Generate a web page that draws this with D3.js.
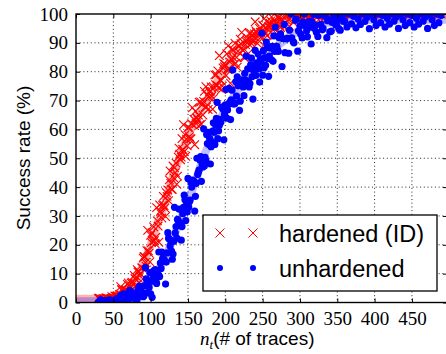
<!DOCTYPE html>
<html>
<head>
<meta charset="utf-8">
<script src="https://cdn.jsdelivr.net/npm/d3@7"></script>
<style>
    body { margin: 0; background: #fff; }
    .tick text { font-family: "Liberation Serif", serif; font-size: 19px; fill: #000; }
</style>
</head>
<body>
<svg id="chart" width="446" height="354"></svg>
<script>
// run A: number of traces and success rates
const traceCounts = [
    30, 33, 36, 39, 42, 45, 48, 51, 54, 57, 60, 63, 66, 69, 72, 75, 78, 81, 84, 87,
    90, 93, 96, 99, 102, 105, 108, 111, 114, 117, 120, 123, 126, 129, 132, 135, 138, 141, 144, 147,
    150, 153, 156, 159, 162, 165, 168, 171, 174, 177, 180, 183, 186, 189, 192, 195, 198, 201, 204, 207,
    210, 213, 216, 219, 222, 225, 228, 231, 234, 237, 240, 243, 246, 249, 252, 255, 258, 261, 264, 267,
    270, 273, 276, 279, 282, 285, 288, 291, 294, 297, 300, 303, 306, 309, 312, 315, 318, 321, 324, 327,
    330, 333, 336, 339, 342, 345, 348, 351, 354, 357, 360, 363, 366, 369, 372, 375, 378, 381, 384, 387,
    390, 393, 396, 399, 402, 405, 408, 411, 414, 417, 420, 423, 426, 429, 432, 435, 438, 441, 444, 447,
    450, 453, 456, 459, 462, 465, 468, 471, 474, 477, 480, 483, 486, 489
];

const hardenedRate = [
    1.4, 0.7, 1.1, 0.5, 1.4, 1.15, 2.0, 1.2, 2.2, 1.5, 5.5, 0.6, 4.2, 6.3, 3.6, 7.0, 9.4, 6.1, 10.8, 7.5,
    15.4, 13.8, 25.0, 14.1, 24.2, 21.4, 32.9, 20.9, 30.8, 36.8, 29.8, 39.0, 45.6, 39.2, 46.7, 41.0, 53.5, 50.4, 61.6, 50.7,
    60.6, 56.9, 67.5, 54.7, 64.0, 69.4, 61.8, 69.7, 74.8, 66.9, 73.3, 67.0, 78.9, 75.2, 85.6, 73.8, 82.8, 78.7, 89.0, 76.0,
    85.0, 89.8, 81.6, 89.0, 93.6, 85.1, 90.4, 86.3, 93.4, 91.0, 97.3, 89.8, 95.0, 92.3, 98.4, 90.2, 95.6, 97.6, 94.4, 97.2,
    99.0, 95.8, 98.1, 95.4, 99.7, 98.0, 100, 97.1, 100, 98.4, 100, 97.8, 99.7, 100, 98.8, 100, 100, 99.1, 100, 98.5,
    100, 100, 100, 100, 100, 100, 100, 100, 100, 100, 100, 100, 100, 100, 100, 100, 100, 100, 100, 100,
    100, 100, 100, 100, 100, 100, 100, 100, 100, 100, 100, 100, 100, 100, 100, 100, 100, 100, 100, 100,
    100, 100, 100, 100, 100, 100, 100, 100, 100, 100, 100, 100, 100, 100
];

const unhardenedRate = [
    0.1, 0.9, 0.3, 0.65, 0, 0.9, 0.5, 0.15, 1.3, 0.65, 2.5, 0, 1.8, 0, 4.2, 1.5, 3.3, 0, 5.1, 3.55,
    2.0, 12.1, 3.4, 10.3, 1.8, 10.2, 6.6, 17.5, 11.8, 16.9, 6.4, 24.2, 19.6, 15.0, 33.0, 22.3, 32.4, 21.6, 33.0, 28.4,
    43.0, 35.5, 42.4, 31.7, 50.0, 46.0, 42.0, 60.2, 49.2, 59.0, 48.0, 59.4, 54.8, 69.4, 61.4, 67.7, 56.4, 73.8, 68.6, 63.4,
    80.6, 69.0, 78.2, 66.6, 77.2, 71.7, 85.4, 76.7, 82.4, 70.5, 87.4, 81.9, 76.4, 93.3, 81.4, 90.3, 78.4, 88.6, 83.6, 95.4,
    87.6, 92.4, 81.8, 96.4, 91.4, 86.4, 100, 90.4, 97.8, 87.1, 95.9, 91.7, 100, 94.2, 97.4, 89.6, 99.9, 96.1, 92.2, 100,
    94.5, 99.7, 91.8, 98.0, 94.1, 100, 96.2, 98.3, 94.4, 99.4, 97.5, 95.5, 100, 96.6, 99.2, 95.2, 98.3, 96.4, 100, 97.4,
    98.9, 94.9, 100, 98.0, 96.0, 100, 97.0, 99.5, 95.5, 98.5, 96.5, 100, 97.5, 99.0, 95.0, 100, 98.0, 96.0, 100, 97.0,
    99.5, 95.5, 98.5, 96.5, 100, 97.5, 99.0, 95.0, 100, 98.0, 96.0, 100, 97.0, 99.5
];

// run B
const traceCountsB = [
    31, 34, 37, 40, 43, 46, 49, 52, 55, 58, 61, 64, 67, 70, 73, 76, 79, 82, 85, 88,
    91, 94, 97, 100, 103, 106, 109, 112, 115, 118, 121, 124, 127, 130, 133, 136, 139, 142, 145, 148,
    151, 154, 157, 160, 163, 166, 169, 172, 175, 178, 181, 184, 187, 190, 193, 196, 199, 202, 205, 208,
    211, 214, 217, 220, 223, 226, 229, 232, 235, 238, 241, 244, 247, 250, 253, 256, 259, 262, 265, 268,
    271, 274, 277, 280, 283, 286, 289, 292, 295, 298, 301, 304, 307, 310, 313, 316, 319, 322, 325, 328,
    331, 334, 337, 340, 343, 346, 349, 352, 355, 358
];

const hardenedRateB = [
    1.5, 1.0, 1.3, 1.6, 1.3, 1.1, 1.7, 2.3, 2.1, 2.7, 4.4, 2.0, 4.4, 6.8, 5.3, 4.4, 8.3, 11.4, 9.3, 12.0,
    15.9, 12.5, 17.9, 23.3, 21.3, 20.4, 28.3, 33.8, 29.3, 33.6, 38.1, 35.3, 41.3, 47.3, 45.0, 43.8, 51.4, 56.8, 52.3, 56.6,
    60.7, 56.7, 61.5, 66.3, 63.4, 61.6, 68.6, 73.2, 67.8, 71.2, 74.7, 70.7, 75.5, 80.3, 77.1, 75.0, 81.7, 86.2, 80.8, 84.2,
    87.5, 82.9, 87.1, 91.3, 87.5, 84.8, 90.9, 93.3, 89.8, 92.0, 94.1, 91.0, 93.6, 96.1, 93.9, 92.4, 96.5, 99.0, 95.1, 96.8,
    98.5, 95.3, 97.7, 100, 97.6, 95.8, 99.6, 100, 98.7, 99.4, 100, 98.7, 99.7, 100, 99.5, 98.7, 100, 100, 99.4, 100,
    100, 99.1, 100, 100, 99.7, 98.8, 100, 100, 99.4, 100
];

const unhardenedRateB = [
    0.2, 0.7, 0.5, 0.05, 0.46, 0.7, 0.4, 0.3, 1.15, 0.9, 0, 3.0, 1.95, 0, 1.8, 3.3, 1.8, 1.0, 5.65, 3.7,
    2.3, 8.2, 7.1, 3.0, 8.2, 11.4, 9.6, 9.0, 17.5, 15.0, 14.0, 22.3, 21.5, 16.8, 24.1, 28.8, 27.0, 26.3, 37.2, 33.8,
    33.1, 41.7, 41.2, 36.8, 44.4, 49.4, 47.9, 47.3, 58.2, 54.8, 54.0, 62.3, 61.5, 56.8, 63.5, 67.6, 65.2, 63.9, 74.2, 70.2,
    68.8, 76.5, 75.1, 69.8, 75.9, 79.4, 76.4, 74.7, 84.7, 80.4, 78.7, 86.1, 84.4, 78.8, 84.9, 88.4, 85.4, 84.1, 92.4, 88.6,
    87.0, 93.1, 91.5, 86.6, 91.6, 94.4, 91.7, 90.0, 98.2, 94.2, 93.0, 97.2, 95.9, 92.1, 95.5, 97.3, 95.1, 93.7, 99.5, 96.4,
    95.0, 99.1, 97.7, 93.8, 97.1, 98.8, 96.4, 94.9, 100, 97.5
];

// run C (rising part only)
const traceCountsC = [
    32, 35, 38, 41, 44, 47, 50, 53, 56, 59, 62, 65, 68, 71, 74, 77, 80, 83, 86, 89,
    92, 95, 98, 101, 104, 107, 110, 113, 116, 119, 122, 125, 128, 131, 134, 137, 140, 143, 146, 149,
    152, 155, 158, 161, 164, 167, 170, 173, 176, 179, 182, 185, 188, 191, 194, 197, 200, 203, 206, 209,
    212, 215, 218, 221, 224, 227, 230, 233, 236, 239, 242, 245, 248, 251, 254, 257, 260, 263, 266, 269,
    272
];

const hardenedRateC = [
    1.4, 1.2, 1.3, 1.5, 1.2, 1.4, 1.7, 2.1, 2.3, 2.9, 4.4, 3.0, 4.1, 5.8, 6.7, 6.6, 8.0, 10.5, 10.0, 12.0,
    15.9, 18.0, 17.1, 20.8, 26.2, 22.6, 26.5, 31.6, 33.7, 32.8, 36.8, 42.5, 39.2, 43.2, 48.3, 50.4, 49.5, 53.1, 58.2, 54.3,
    57.5, 62.0, 63.5, 62.0, 65.0, 69.5, 65.0, 67.7, 71.9, 73.1, 71.5, 74.5, 79.0, 74.4, 77.1, 81.3, 82.5, 80.7, 83.4, 87.6,
    82.6, 85.0, 88.9, 89.7, 87.3, 89.4, 91.6, 89.2, 90.7, 93.1, 93.6, 92.5, 93.7, 95.8, 93.2, 94.6, 96.8, 97.1, 95.8, 96.9,
    98.8
];

const unhardenedRateC = [
    0.5, 0.3, 0.4, 0.65, 0.25, 0.4, 0.6, 0.75, 0.7, 0.95, 2.1, 0.25, 0.9, 2.1, 2.4, 1.7, 2.5, 3.95, 2.4, 3.35,
    5.8, 6.7, 5.2, 7.4, 11.0, 7.4, 9.8, 13.7, 15.2, 14.3, 17.2, 22.0, 17.8, 21.2, 26.3, 28.4, 27.5, 30.8, 35.6, 31.4,
    34.9, 40.0, 42.1, 41.3, 45.2, 50.6, 47.0, 50.3, 55.1, 56.9, 55.7, 59.0, 63.8, 59.5, 62.5, 67.0, 68.5, 66.7, 69.4, 73.6,
    68.8, 71.5, 75.7, 76.8, 74.7, 77.1, 81.0, 75.9, 78.3, 82.2, 83.1, 81.0, 83.4, 87.3, 82.2, 84.6, 88.2, 88.8, 87.0, 88.8,
    91.8
];

// average curves drawn as light bands behind the points
const trendCounts = [0, 10, 20, 30, 40, 50, 60, 70, 80, 90, 100, 110, 120, 130, 140, 150, 160, 170, 180, 190,
    200, 210, 220, 230, 240, 250, 260, 270, 280, 290, 300, 320, 340, 360, 400, 450, 497];
const hardenedTrend = [1.3, 1.3, 1.3, 1.3, 1.3, 1.6, 3, 5, 8, 13, 20, 28, 35, 44, 51, 58, 63, 68, 72, 77,
    81, 85, 88, 90, 92.5, 94, 96, 97, 98, 99, 99.5, 100, 100, 100, 100, 100, 100];
const unhardenedTrend = [0.4, 0.4, 0.4, 0.4, 0.45, 0.5, 1, 1.5, 2.5, 4, 7, 11, 16, 22, 29, 35, 42, 50, 56, 62,
    67, 71, 75, 78, 81, 84, 87, 89, 91, 93, 94.5, 96, 97, 97.5, 98, 98, 98];

const xTicks = [0, 50, 100, 150, 200, 250, 300, 350, 400, 450];
const yTicks = [0, 10, 20, 30, 40, 50, 60, 70, 80, 90, 100];

const box = { left: 76, right: 447, top: 14, bottom: 302.5 };

const svg = d3.select("#chart");

const x = d3.scaleLinear().domain([0, 497]).range([box.left, box.right]);
const y = d3.scaleLinear().domain([0, 100]).range([box.bottom, box.top]);

function pairs(counts, rates) {
    return counts.map((c, i) => [c, rates[i]]);
}

const hardenedPoints = pairs(traceCounts, hardenedRate)
    .concat(pairs(traceCountsB, hardenedRateB), pairs(traceCountsC, hardenedRateC));
const unhardenedPoints = pairs(traceCounts, unhardenedRate)
    .concat(pairs(traceCountsB, unhardenedRateB), pairs(traceCountsC, unhardenedRateC));

// dotted grid
const grid = svg.append("g")
    .attr("stroke", "#000")
    .attr("stroke-width", 1)
    .attr("stroke-dasharray", "1,2.7")
    .attr("opacity", 0.85);

grid.selectAll(".vgrid")
    .data(xTicks.slice(1))
    .enter().append("line")
    .attr("x1", d => x(d)).attr("x2", d => x(d))
    .attr("y1", box.top).attr("y2", box.bottom);

grid.selectAll(".hgrid")
    .data(yTicks.slice(1, -1))
    .enter().append("line")
    .attr("x1", box.left).attr("x2", box.right)
    .attr("y1", d => y(d)).attr("y2", d => y(d));

svg.append("clipPath")
    .attr("id", "plot-clip")
    .append("rect")
    .attr("x", box.left).attr("y", box.top)
    .attr("width", box.right - box.left).attr("height", box.bottom - box.top);

const plot = svg.append("g").attr("clip-path", "url(#plot-clip)");

const line = d3.line()
    .x(d => x(d[0]))
    .y(d => y(d[1]));

plot.append("path")
    .datum(pairs(trendCounts, hardenedTrend))
    .attr("d", line)
    .attr("fill", "none")
    .attr("stroke", "#ff0000")
    .attr("stroke-opacity", 0.3)
    .attr("stroke-width", 8);

plot.append("path")
    .datum(pairs(trendCounts, unhardenedTrend))
    .attr("d", line)
    .attr("fill", "none")
    .attr("stroke", "#0000ff")
    .attr("stroke-opacity", 0.25)
    .attr("stroke-width", 8);

const cross = d3.symbol().type(d3.symbolX).size(50);

// hardened (ID) points as red crosses
plot.append("g")
    .selectAll("path")
    .data(hardenedPoints)
    .enter().append("path")
    .attr("d", cross)
    .attr("transform", d => `translate(${x(d[0])},${y(d[1])})`)
    .attr("fill", "none")
    .attr("stroke", "#ff0000")
    .attr("stroke-width", 1.1);

// unhardened points as blue dots
plot.append("g")
    .selectAll("circle")
    .data(unhardenedPoints)
    .enter().append("circle")
    .attr("cx", d => x(d[0]))
    .attr("cy", d => y(d[1]))
    .attr("r", 3.6)
    .attr("fill", "#0000ff");

// axes with inward ticks on all four sides
function styleAxis(g) {
    g.select(".domain").remove();
    g.selectAll(".tick line").attr("stroke", "#000").attr("stroke-width", 1);
}

svg.append("g")
    .attr("transform", `translate(0,${box.bottom})`)
    .call(d3.axisBottom(x).tickValues(xTicks).tickSizeInner(-4).tickSizeOuter(0).tickPadding(9))
    .call(styleAxis);

svg.append("g")
    .attr("transform", `translate(0,${box.top})`)
    .call(d3.axisTop(x).tickValues(xTicks).tickSizeInner(-4).tickSizeOuter(0).tickFormat(""))
    .call(styleAxis);

svg.append("g")
    .attr("transform", `translate(${box.left},0)`)
    .call(d3.axisLeft(y).tickValues(yTicks).tickSizeInner(-4).tickSizeOuter(0).tickPadding(8))
    .call(styleAxis);

svg.append("g")
    .attr("transform", `translate(${box.right},0)`)
    .call(d3.axisRight(y).tickValues(yTicks).tickSizeInner(-4).tickSizeOuter(0).tickFormat(""))
    .call(styleAxis);

svg.append("rect")
    .attr("x", box.left).attr("y", box.top)
    .attr("width", box.right - box.left).attr("height", box.bottom - box.top)
    .attr("fill", "none")
    .attr("stroke", "#000")
    .attr("stroke-width", 1.4);

// legend
const legend = svg.append("g");

legend.append("rect")
    .attr("x", 203).attr("y", 215)
    .attr("width", 234).attr("height", 76)
    .attr("fill", "#fff")
    .attr("stroke", "#000")
    .attr("stroke-width", 1.3);

[220, 253].forEach(lx => {
    legend.append("path")
        .attr("d", d3.symbol().type(d3.symbolX).size(55))
        .attr("transform", `translate(${lx},233)`)
        .attr("fill", "none")
        .attr("stroke", "#ff0000")
        .attr("stroke-width", 1);
    legend.append("circle")
        .attr("cx", lx).attr("cy", 268)
        .attr("r", 3)
        .attr("fill", "#0000ff");
});

legend.selectAll("text")
    .data(["hardened (ID)", "unhardened"])
    .enter().append("text")
    .attr("x", 279)
    .attr("y", (d, i) => 241.5 + i * 35)
    .style("font-family", "Liberation Sans, Arial, sans-serif")
    .style("font-size", "23.5px")
    .text(d => d);

// axis labels
svg.append("text")
    .attr("transform", "translate(30,158) rotate(-90)")
    .attr("text-anchor", "middle")
    .style("font-family", "Liberation Sans, Arial, sans-serif")
    .style("font-size", "19px")
    .text("Success rate (%)");

const xLabel = svg.append("text")
    .attr("x", 200)
    .attr("y", 345)
    .style("font-family", "Liberation Sans, Arial, sans-serif")
    .style("font-size", "19px");

xLabel.append("tspan")
    .style("font-family", "Liberation Serif, serif")
    .style("font-style", "italic")
    .text("n");
xLabel.append("tspan")
    .attr("dy", 4)
    .style("font-family", "Liberation Serif, serif")
    .style("font-style", "italic")
    .style("font-size", "13px")
    .text("t");
xLabel.append("tspan")
    .attr("dy", -4)
    .text("(# of traces)");
</script>
</body>
</html>
